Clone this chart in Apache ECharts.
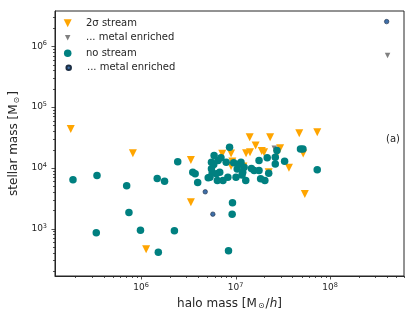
<!DOCTYPE html>
<html><head><meta charset="utf-8">
<script src="https://cdn.jsdelivr.net/npm/echarts@6/dist/echarts.min.js"></script>
<style>html,body{margin:0;padding:0;background:#fff}#c{width:415px;height:318px}</style>
</head><body><div id="c"></div>
<script>
// ---- data ----
const streamHalo    = [1.80e5, 8.18e5, 1.13e6, 3.36e6, 3.36e6, 7.22e6, 8.95e6, 8.95e6, 1.41e7, 1.29e7, 1.42e7, 1.63e7, 1.89e7, 2.00e7, 2.32e7, 2.96e7, 4.72e7, 7.31e7, 5.19e7, 3.67e7, 5.40e7, 2.24e7, 2.74e7, 9.23e6, 1.21e7];
const streamStellar = [4.37e4, 1.74e4, 458, 1.35e4, 2720, 1.70e4, 1.72e4, 1.07e4, 3.18e4, 1.74e4, 1.81e4, 2.33e4, 1.89e4, 1.81e4, 3.18e4, 2.10e4, 3.71e4, 3.85e4, 1.72e4, 1.00e4, 3710, 8470, 1.70e4, 1.27e4, 1.05e4];
const streamMetalHalo    = [4.06e8, 2.57e7, 7.66e6];
const streamMetalStellar = [7.03e5, 2.10e4, 6110];
const noStreamHalo = [1.90e5, 3.41e5, 3.35e5, 7.03e5, 7.43e5, 9.84e5, 1.48e6, 1.77e6, 1.52e6, 2.25e6, 2.44e6, 3.52e6, 3.73e6, 3.97e6, 5.13e6, 5.92e6, 5.55e6, 5.55e6, 5.35e6, 6.25e6, 6.79e6, 7.95e6, 6.52e6, 6.41e6, 7.35e6, 8.28e6, 8.63e6, 9.27e6, 9.19e6, 8.41e6, 1.01e7, 1.10e7, 1.14e7, 1.23e7, 1.19e7, 1.28e7, 1.57e7, 1.77e7, 1.84e7, 2.04e7, 2.24e7, 1.77e7, 2.16e7, 2.74e7, 2.63e7, 2.63e7, 3.30e7, 4.86e7, 5.16e7, 7.31e7, 1.47e7, 5.87e6, 7.00e6, 9.55e6, 5.65e6, 1.17e7, 1.04e7];
const noStreamStellar = [6350, 7470, 853, 5060, 1840, 942, 6670, 6030, 409, 920, 1.26e4, 8470, 7960, 5730, 6850, 1.59e4, 1.24e4, 9630, 7000, 7960, 8470, 1.24e4, 1.32e4, 6180, 6180, 7000, 2.18e4, 2660, 1730, 432, 7000, 1.16e4, 1.24e4, 1.02e4, 8470, 6180, 9030, 9030, 6590, 6180, 8150, 1.32e4, 1.46e4, 1.93e4, 1.49e4, 1.16e4, 1.28e4, 2.05e4, 2.05e4, 9270, 9750, 1.13e4, 1.46e4, 1.21e4, 8210, 7620, 9550];
const noStreamMetalHalo    = [3.97e8, 4.77e6, 5.74e6];
const noStreamMetalStellar = [2.55e6, 4030, 1730];

const seriesNames = ['2σ stream', '... metal enriched', 'no stream', '... metal enriched '];
const xMin = 1.225e5, xMax = 6.06e8, yMin = 166, yMax = 3.81e6;
const xMajorTicks = [1e6, 1e7, 1e8];
const yMajorTicks = [1e3, 1e4, 1e5, 1e6];
const minorMult = [2, 3, 4, 5, 6, 7, 8, 9];
const xDecades = [1e5, 1e6, 1e7, 1e8];
const yDecades = [1e2, 1e3, 1e4, 1e5, 1e6];

const pairs = (a, b) => a.map((v, i) => [v, b[i]]);
const inRange = (v, lo, hi) => v > lo * 1.0001 && v < hi * 0.9999;
const xMinorTicks = [], yMinorTicks = [];
xDecades.forEach(d => minorMult.forEach(m => { if (inRange(d * m, xMin, xMax)) xMinorTicks.push(d * m); }));
yDecades.forEach(d => minorMult.forEach(m => { if (inRange(d * m, yMin, yMax)) yMinorTicks.push(d * m); }));

const FONT = 'DejaVu Sans';
const INK = '#262626';
const TRI_DOWN = 'path://M0,0L10,0L5,10Z';

function powLabel(v) {
  const e = Math.log10(v);
  const r = Math.round(e);
  if (Math.abs(e - r) > 1e-6) return '';
  return '{b|10}{s|' + r + '}';
}
const tickRich = {
  b: { fontFamily: FONT, fontSize: 9, color: INK },
  s: { fontFamily: FONT, fontSize: 6.5, color: INK, verticalAlign: 'top', padding: [0, 0, 5, 0] }
};
const nameRich = {
  n: { fontFamily: FONT, fontSize: 12, color: INK },
  sub: { fontFamily: FONT, fontSize: 8, color: INK, padding: [5, 1, 0, 1] },
  it: { fontFamily: FONT, fontSize: 12, color: INK, fontStyle: 'italic' }
};

function tickSeries(values, axis, len) {
  return {
    type: 'custom', silent: true, clip: false, z: 5,
    data: values.map(v => axis === 'x' ? [v, yMin] : [xMin, v]),
    renderItem: (params, api) => {
      const p = api.coord([api.value(0), api.value(1)]);
      if (axis === 'x') {
        const x = Math.round(p[0]) + 0.5;
        return { type: 'line', shape: { x1: x, y1: p[1], x2: x, y2: p[1] + len }, style: { stroke: INK, lineWidth: 0.8 } };
      }
      const y = Math.round(p[1]) + 0.5;
      return { type: 'line', shape: { x1: p[0] - len, y1: y, x2: p[0], y2: y }, style: { stroke: INK, lineWidth: 0.8 } };
    }
  };
}

const LEG_ICON_X = 67.7, LEG_TEXT_X = 86;
function legendFor(name, centerY, size) {
  return {
    data: [name], left: LEG_ICON_X - size / 2, top: centerY - 6, padding: 0,
    itemWidth: size, itemHeight: size, selectedMode: false, symbolKeepAspect: true,
    textStyle: { fontFamily: FONT, fontSize: 10, color: INK, lineHeight: 12,
      padding: [0, 0, 0, LEG_TEXT_X - (LEG_ICON_X + size / 2 + 5)] }
  };
}

const chart = echarts.init(document.getElementById('c'), null, { renderer: 'canvas' });
chart.setOption({
  animation: false,
  backgroundColor: '#fff',
  title: { text: '(a)', right: 15, top: 134, padding: 0, textStyle: { fontFamily: FONT, fontSize: 10, fontWeight: 'normal', color: INK } },
  legend: [
    legendFor(seriesNames[0], 23.3, 8),
    legendFor(seriesNames[1], 37.7, 5.5),
    legendFor(seriesNames[2], 53.3, 7.5),
    legendFor(seriesNames[3], 67.7, 4.5)
  ],
  grid: { left: 49, right: 11, top: 11, bottom: 42, show: true, borderColor: INK, borderWidth: 1, backgroundColor: 'transparent' },
  xAxis: {
    type: 'log', min: xMin, max: xMax,
    name: '{n|halo mass [M}{sub|⊙}{n|/}{it|h}{n|]}', nameLocation: 'middle', nameGap: 20,
    nameTextStyle: { rich: nameRich },
    axisLine: { show: true, lineStyle: { color: INK, width: 1 } },
    axisTick: { show: false }, splitLine: { show: false },
    axisLabel: { formatter: powLabel, rich: tickRich, margin: 6, showMinLabel: false, showMaxLabel: false }
  },
  yAxis: {
    type: 'log', min: yMin, max: yMax,
    name: '{n|stellar mass [M}{sub|⊙}{n|]}', nameLocation: 'middle', nameGap: 30, nameRotate: 90,
    nameTextStyle: { rich: nameRich },
    axisLine: { show: true, lineStyle: { color: INK, width: 1 } },
    axisTick: { show: false }, splitLine: { show: false },
    axisLabel: { formatter: powLabel, rich: tickRich, margin: 8, showMinLabel: false, showMaxLabel: false }
  },
  series: [
    { name: seriesNames[0], type: 'scatter', symbol: TRI_DOWN, symbolSize: 8, z: 2,
      itemStyle: { color: '#FFA500', opacity: 1 }, data: pairs(streamHalo, streamStellar) },
    { name: seriesNames[1], type: 'scatter', symbol: TRI_DOWN, symbolSize: 5.5, z: 3,
      itemStyle: { color: '#808080', opacity: 1 }, data: pairs(streamMetalHalo, streamMetalStellar) },
    { name: seriesNames[2], type: 'scatter', symbol: 'circle', symbolSize: 7.5, z: 4,
      itemStyle: { color: '#008080', opacity: 1 }, data: pairs(noStreamHalo, noStreamStellar) },
    { name: seriesNames[3], type: 'scatter', symbol: 'circle', symbolSize: 4.5, z: 5,
      itemStyle: { color: '#3f6fa8', borderColor: '#1c2e44', borderWidth: 0.6, opacity: 1 }, data: pairs(noStreamMetalHalo, noStreamMetalStellar) },
    tickSeries(xMajorTicks, 'x', 3.5),
    tickSeries(xMinorTicks, 'x', 2),
    tickSeries(yMajorTicks, 'y', 3.5),
    tickSeries(yMinorTicks, 'y', 2)
  ]
});
</script>
</body></html>
